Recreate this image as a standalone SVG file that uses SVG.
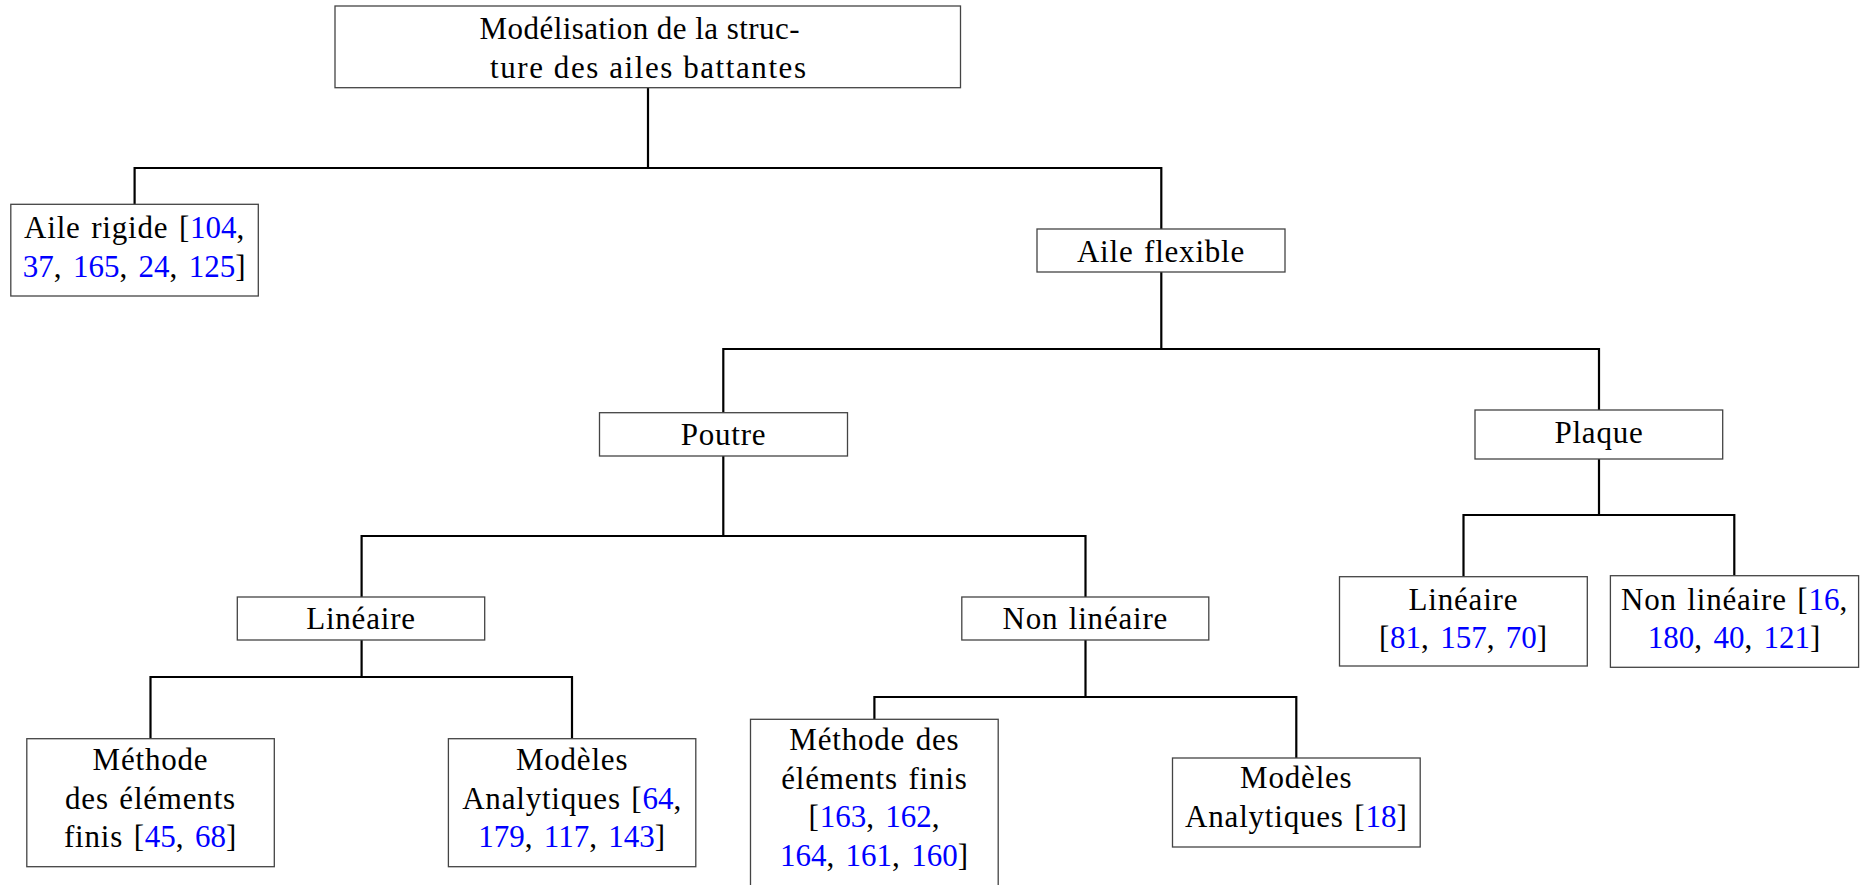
<svg xmlns="http://www.w3.org/2000/svg" width="1863" height="885" viewBox="0 0 1863 885">
<style>
.box{fill:#fff;stroke:#444;stroke-width:1.3}
.t{font-family:"Liberation Serif","Times New Roman",serif;font-size:31px;fill:#000;text-anchor:middle;letter-spacing:0.8px;word-spacing:2px}
.c{fill:#0000ff;letter-spacing:0;word-spacing:0}
.tl{letter-spacing:0;word-spacing:0}
.ln{fill:none;stroke:#000;stroke-width:2.2}
</style>
<rect width="1863" height="885" fill="#fff"/>
<g id="connectors">
<path class="ln" d="M648,88V168M134.6,204V168H1161.3V229"/>
<path class="ln" d="M1161.3,272V349M723.3,412.7V349H1599V410"/>
<path class="ln" d="M723.3,456V536M361.6,597V536H1085.5V597"/>
<path class="ln" d="M361.6,640V677M150.5,738.7V677H572V738.7"/>
<path class="ln" d="M1085.5,640V697M874.4,719.3V697H1296.3V758"/>
<path class="ln" d="M1599,459V515M1463.5,576.7V515H1734.3V575.7"/>
</g>
<g id="root">
<rect class="box" x="335" y="6" width="625.5" height="81.7"/>
<text class="t tl" x="639.5" y="39" textLength="320" lengthAdjust="spacing">Modélisation de la struc-</text>
<text class="t tl" x="648" y="78" textLength="316" lengthAdjust="spacing">ture des ailes battantes</text>
</g>
<g id="aile-rigide">
<rect class="box" x="10.8" y="204.3" width="247.5" height="91.7"/>
<text class="t" x="134.6" y="238">Aile rigide [<tspan class="c">104</tspan>,</text>
<text class="t" x="134.6" y="277"><tspan class="c">37</tspan>, <tspan class="c">165</tspan>, <tspan class="c">24</tspan>, <tspan class="c">125</tspan>]</text>
</g>
<g id="aile-flexible">
<rect class="box" x="1037" y="229" width="248" height="43"/>
<text class="t" x="1161" y="261.7">Aile flexible</text>
</g>
<g id="poutre">
<rect class="box" x="599.5" y="412.7" width="248" height="43.3"/>
<text class="t" x="723.5" y="445">Poutre</text>
</g>
<g id="plaque">
<rect class="box" x="1475" y="410" width="247.7" height="49"/>
<text class="t" x="1599" y="442.5">Plaque</text>
</g>
<g id="poutre-lineaire">
<rect class="box" x="237.3" y="597" width="247.4" height="43"/>
<text class="t" x="361" y="629.3">Linéaire</text>
</g>
<g id="poutre-non-lineaire">
<rect class="box" x="961.8" y="597" width="247" height="43"/>
<text class="t" x="1085.3" y="629.3">Non linéaire</text>
</g>
<g id="lin-fem">
<rect class="box" x="26.8" y="738.7" width="247.5" height="128"/>
<text class="t" x="150.5" y="770">Méthode</text>
<text class="t" x="150.5" y="808.7">des éléments</text>
<text class="t" x="150.5" y="846.7">finis [<tspan class="c">45</tspan>, <tspan class="c">68</tspan>]</text>
</g>
<g id="lin-analytique">
<rect class="box" x="448.4" y="738.7" width="247.4" height="128"/>
<text class="t" x="572.1" y="770">Modèles</text>
<text class="t" x="572.1" y="808.7">Analytiques [<tspan class="c">64</tspan>,</text>
<text class="t" x="572.1" y="846.7"><tspan class="c">179</tspan>, <tspan class="c">117</tspan>, <tspan class="c">143</tspan>]</text>
</g>
<g id="nonlin-fem">
<rect class="box" x="750.5" y="719.3" width="247.7" height="175"/>
<text class="t" x="874.4" y="750">Méthode des</text>
<text class="t" x="874.4" y="789.3">éléments finis</text>
<text class="t" x="874.4" y="826.7">[<tspan class="c">163</tspan>, <tspan class="c">162</tspan>,</text>
<text class="t" x="874.4" y="866"><tspan class="c">164</tspan>, <tspan class="c">161</tspan>, <tspan class="c">160</tspan>]</text>
</g>
<g id="nonlin-analytique">
<rect class="box" x="1172.5" y="758" width="247.7" height="89"/>
<text class="t" x="1296.3" y="788.3">Modèles</text>
<text class="t" x="1296.3" y="827.3">Analytiques [<tspan class="c">18</tspan>]</text>
</g>
<g id="plaque-lineaire">
<rect class="box" x="1339.5" y="576.7" width="247.8" height="89.3"/>
<text class="t" x="1463.4" y="610">Linéaire</text>
<text class="t" x="1463.4" y="647.7">[<tspan class="c">81</tspan>, <tspan class="c">157</tspan>, <tspan class="c">70</tspan>]</text>
</g>
<g id="plaque-non-lineaire">
<rect class="box" x="1610.4" y="575.7" width="248.2" height="91.6"/>
<text class="t" x="1734.5" y="610">Non linéaire [<tspan class="c">16</tspan>,</text>
<text class="t" x="1734.5" y="648"><tspan class="c">180</tspan>, <tspan class="c">40</tspan>, <tspan class="c">121</tspan>]</text>
</g>
</svg>
